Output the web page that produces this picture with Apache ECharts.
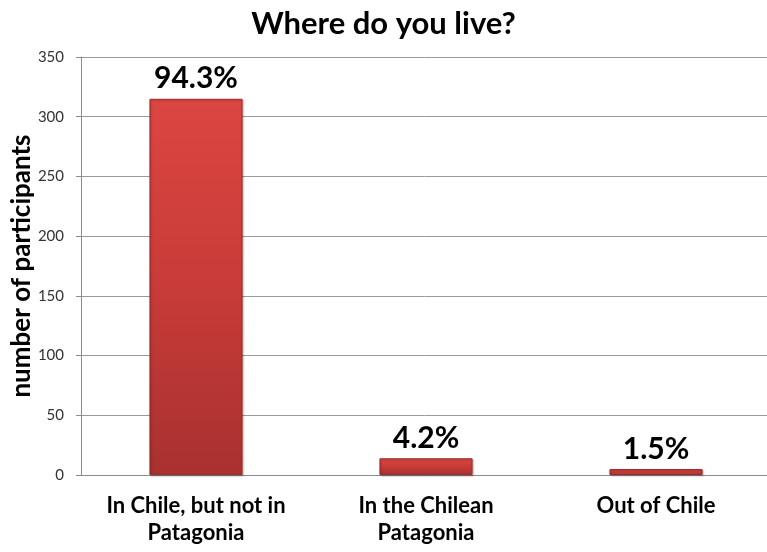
<!DOCTYPE html>
<html>
<head>
<meta charset="utf-8">
<script src="https://cdn.jsdelivr.net/npm/echarts@6/dist/echarts.min.js"></script>
<style>
  html, body { margin: 0; padding: 0; background: #ffffff; }
  #chart { width: 767px; height: 552px; }
</style>
</head>
<body>
<div id="chart"></div>
<script>
// Survey answers: where respondents live
const categories = ['In Chile, but not in\nPatagonia', 'In the Chilean\nPatagonia', 'Out of Chile'];
const participants = [315, 14, 5];
const yTicks = { min: 0, max: 350, interval: 50 };

const total = participants.reduce((a, b) => a + b, 0);
const FONT = 'Lato, "Open Sans", sans-serif';

const chart = echarts.init(document.getElementById('chart'));
chart.setOption({
  animation: false,
  backgroundColor: '#ffffff',
  title: {
    text: 'Where do you live?',
    left: 'center',
    top: 3,
    textStyle: { fontFamily: FONT, fontSize: 31, fontWeight: 'bold', color: '#000' }
  },
  grid: { left: 81, right: -4, top: 57, bottom: 77, outerBoundsMode: 'none', containLabel: false },
  xAxis: {
    type: 'category',
    data: categories,
    axisLine: { lineStyle: { color: '#8c8c8c' } },
    axisTick: { show: false },
    axisLabel: {
      interval: 0,
      hideOverlap: false,
      fontFamily: FONT, fontSize: 22, fontWeight: 'bold', color: '#000',
      lineHeight: 27, margin: 17
    }
  },
  yAxis: {
    type: 'value',
    min: yTicks.min, max: yTicks.max, interval: yTicks.interval,
    name: 'number of participants',
    nameLocation: 'middle',
    nameGap: 46,
    nameMoveOverlap: false,
    nameTextStyle: { fontFamily: FONT, fontSize: 26, fontWeight: 'bold', color: '#000' },
    axisLine: { show: true, lineStyle: { color: '#8c8c8c' } },
    axisTick: { show: true, length: 5, lineStyle: { color: '#8c8c8c' } },
    axisLabel: { fontFamily: FONT, fontSize: 15, color: '#333', margin: 17 },
    splitLine: { lineStyle: { color: '#9a9a9a', width: 1 } }
  },
  series: [{
    type: 'bar',
    data: participants,
    barWidth: '40.5%',
    itemStyle: {
      color: new echarts.graphic.LinearGradient(0, 0, 0, 1, [
        { offset: 0, color: '#dc4642' },
        { offset: 0.5, color: '#c83b38' },
        { offset: 1, color: '#a83130' }
      ]),
      borderColor: '#9e2d2b',
      borderWidth: 1,
      shadowColor: 'rgba(0,0,0,0.25)',
      shadowBlur: 2,
      shadowOffsetX: 1,
      shadowOffsetY: 1
    },
    label: {
      show: true,
      position: 'top',
      distance: 5,
      fontFamily: FONT, fontSize: 30, fontWeight: 'bold', color: '#000',
      formatter: p => (p.value / total * 100).toFixed(1) + '%'
    }
  }]
});
</script>
</body>
</html>
